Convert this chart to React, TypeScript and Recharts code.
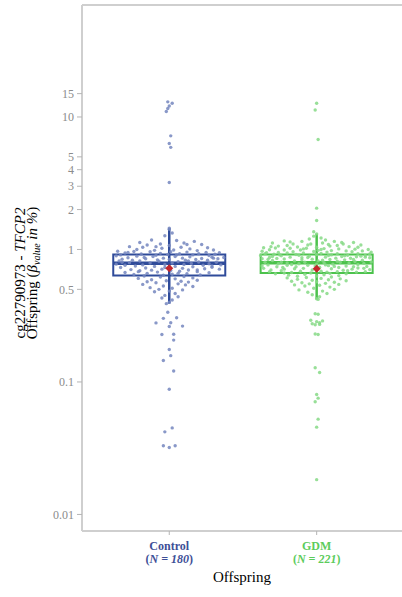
import React from 'react';
import { ComposedChart, Scatter, XAxis, YAxis, ReferenceArea, ReferenceLine } from 'recharts';

const groups = ['Control', 'GDM'];
const groupN = [180, 221];
const groupX = [1, 2];
const boxColors = ['#2f4b9a', '#4cc24c'];
const dotColors = ['#7486be', '#86d986'];
const labelColors = ['#3d4f97', '#5ccc5c'];

// [low whisker, q1, median, q3, high whisker, mean]
const controlStats = [0.39, 0.636, 0.788, 0.917, 1.45, 0.722];
const gdmStats = [0.42, 0.663, 0.794, 0.917, 1.314, 0.715];

const yTicks = [0.01, 0.1, 0.5, 1, 2, 3, 4, 5, 10, 15];

// [jitter, value %]
const controlPoints = [
  [-0.01, 13.0], [0.02, 12.7], [0.0, 12.1], [-0.01, 11.6], [-0.02, 11.0], [0.01, 7.2], [0.0, 6.3], [0.01, 5.9], [0.0, 3.2],
  [0.0, 1.45], [0.0, 1.42], [0.02, 1.33], [-0.03, 1.27],
  [-0.12, 1.18], [0.05, 1.17], [0.17, 1.15], [-0.2, 1.13], [0.1, 1.12], [-0.06, 1.1], [0.22, 1.09], [-0.15, 1.08], [0.0, 1.07],
  [-0.27, 1.05], [-0.18, 1.04], [0.08, 1.04], [0.26, 1.03], [-0.05, 1.02], [0.14, 1.01], [-0.22, 1.0], [0.3, 0.99], [0.03, 0.99], [-0.1, 0.985], [0.19, 0.98],
  [-0.35, 0.97], [-0.24, 0.965], [-0.13, 0.96], [0.01, 0.96], [0.12, 0.955], [0.25, 0.95], [0.34, 0.945], [-0.3, 0.94], [-0.06, 0.935],
  [0.07, 0.93], [0.2, 0.93], [-0.19, 0.925], [0.31, 0.92], [-0.01, 0.915], [-0.33, 0.91], [0.16, 0.91], [-0.09, 0.905], [0.27, 0.9],
  [-0.36, 0.895], [-0.22, 0.89], [-0.11, 0.885], [0.04, 0.885], [0.14, 0.88], [0.29, 0.875], [0.37, 0.87], [-0.28, 0.865], [-0.04, 0.86], [0.09, 0.86],
  [0.22, 0.855], [-0.16, 0.85], [0.33, 0.85], [-0.32, 0.845], [0.0, 0.84], [0.18, 0.84], [-0.08, 0.835], [0.26, 0.83], [-0.25, 0.83], [0.11, 0.828],
  [-0.34, 0.82], [-0.2, 0.818], [-0.07, 0.815], [0.06, 0.81], [0.2, 0.805], [0.32, 0.8], [-0.27, 0.795], [-0.13, 0.79], [0.02, 0.79],
  [0.15, 0.785], [0.27, 0.78], [-0.36, 0.775], [-0.03, 0.77], [0.1, 0.77], [-0.18, 0.765], [0.35, 0.765], [0.23, 0.76], [-0.3, 0.76],
  [-0.23, 0.75], [-0.1, 0.745], [0.04, 0.745], [0.16, 0.74], [0.29, 0.735], [-0.33, 0.73], [-0.16, 0.725], [0.09, 0.72],
  [0.24, 0.715], [-0.05, 0.71], [0.34, 0.71], [-0.26, 0.705], [0.13, 0.7], [-0.12, 0.698], [0.01, 0.695],
  [-0.2, 0.69], [0.07, 0.685], [0.19, 0.68], [-0.08, 0.675], [-0.3, 0.67], [0.27, 0.668], [-0.15, 0.66], [0.12, 0.655], [0.02, 0.65], [-0.24, 0.648], [0.21, 0.642], [-0.04, 0.638],
  [-0.17, 0.63], [0.1, 0.625], [-0.06, 0.62], [0.16, 0.61], [-0.21, 0.605], [0.04, 0.6], [-0.12, 0.59], [0.19, 0.585], [-0.02, 0.58], [0.08, 0.575], [-0.15, 0.57], [0.13, 0.567],
  [-0.09, 0.56], [0.06, 0.55], [-0.18, 0.545], [0.11, 0.54], [-0.04, 0.53], [0.16, 0.525], [-0.13, 0.515], [0.02, 0.51], [-0.07, 0.5], [0.09, 0.495], [0.0, 0.485], [-0.1, 0.48],
  [0.04, 0.465], [-0.03, 0.45], [0.06, 0.44], [-0.05, 0.43], [0.02, 0.415], [0.0, 0.4], [-0.02, 0.39],
  [-0.28, 0.95], [0.05, 0.91], [0.3, 0.86], [-0.17, 0.87], [0.13, 0.82], [-0.32, 0.8], [0.29, 0.75], [-0.03, 0.73], [0.19, 0.7], [-0.21, 0.68], [0.06, 0.66], [-0.09, 1.05], [0.12, 1.09],
  [-0.01, 0.336], [-0.04, 0.302], [0.05, 0.305], [-0.09, 0.279], [0.01, 0.28], [0.0, 0.262], [0.09, 0.264], [-0.05, 0.228], [0.03, 0.229], [0.03, 0.207],
  [0.0, 0.176], [0.01, 0.158], [-0.04, 0.145], [0.03, 0.121], [0.0, 0.088], [0.02, 0.045], [-0.03, 0.042], [-0.04, 0.033], [0.0, 0.032], [0.04, 0.033],
];

const gdmPoints = [
  [0.0, 12.7], [-0.01, 11.3], [0.01, 6.76], [0.0, 2.05], [0.0, 1.655], [-0.02, 1.36],
  [0.0, 1.31], [-0.02, 1.26], [0.03, 1.22], [-0.05, 1.2], [0.06, 1.18],
  [-0.22, 1.16], [-0.1, 1.15], [0.12, 1.15], [0.25, 1.13], [-0.3, 1.12], [0.04, 1.12], [-0.16, 1.1], [0.18, 1.1], [0.3, 1.08], [-0.06, 1.08],
  [-0.26, 1.06], [0.09, 1.06], [0.22, 1.05], [-0.13, 1.045], [0.0, 1.04],
  [-0.36, 1.03], [-0.28, 1.025], [-0.18, 1.02], [-0.07, 1.02], [0.05, 1.015], [0.15, 1.01], [0.26, 1.005], [0.35, 1.0], [-0.32, 0.995], [-0.22, 0.99], [-0.11, 0.99],
  [0.01, 0.985], [0.1, 0.98], [0.2, 0.975], [0.31, 0.975], [-0.37, 0.97], [-0.02, 0.965], [0.24, 0.96], [-0.16, 0.96], [0.37, 0.955], [0.07, 0.955], [-0.26, 0.95],
  [-0.34, 0.945], [-0.2, 0.94], [-0.09, 0.94], [0.03, 0.935], [0.14, 0.93], [0.28, 0.93], [0.36, 0.925], [-0.29, 0.92], [-0.14, 0.915], [0.0, 0.915], [0.1, 0.91],
  [0.21, 0.905], [0.33, 0.9], [-0.38, 0.9], [-0.24, 0.895], [-0.05, 0.89], [0.17, 0.885], [0.27, 0.88], [-0.18, 0.875], [0.06, 0.875], [-0.32, 0.87], [0.36, 0.865],
  [-0.1, 0.865], [0.13, 0.86], [0.23, 0.858], [-0.27, 0.856],
  [-0.37, 0.85], [-0.22, 0.848], [-0.03, 0.845], [0.09, 0.84], [0.19, 0.835], [0.31, 0.83], [-0.3, 0.825], [-0.15, 0.82], [0.01, 0.82], [0.14, 0.815], [0.26, 0.81],
  [0.37, 0.805], [-0.35, 0.8], [-0.08, 0.8], [0.05, 0.795], [-0.2, 0.79], [0.22, 0.79], [0.32, 0.785], [-0.26, 0.78], [-0.12, 0.78], [0.11, 0.775], [0.0, 0.775],
  [-0.33, 0.765], [-0.2, 0.76], [-0.06, 0.76], [0.08, 0.755], [0.2, 0.75], [0.34, 0.745], [-0.27, 0.74], [-0.14, 0.74], [0.02, 0.735], [0.15, 0.73],
  [0.28, 0.725], [-0.36, 0.72], [-0.09, 0.72], [0.1, 0.715], [0.24, 0.71], [-0.22, 0.71], [0.36, 0.705], [-0.03, 0.7], [-0.31, 0.7], [0.18, 0.697],
  [-0.24, 0.69], [-0.11, 0.685], [0.03, 0.685], [0.14, 0.68], [0.27, 0.675], [-0.17, 0.67], [-0.04, 0.665], [0.09, 0.66], [0.2, 0.655], [-0.28, 0.655],
  [-0.08, 0.65], [0.05, 0.645], [-0.19, 0.64], [0.15, 0.635], [0.0, 0.63], [-0.13, 0.627],
  [0.1, 0.62], [-0.07, 0.615], [-0.2, 0.61], [0.03, 0.605], [0.16, 0.6], [-0.13, 0.595], [0.08, 0.59], [-0.03, 0.585], [0.2, 0.58], [-0.17, 0.575],
  [0.0, 0.57], [0.12, 0.565], [-0.1, 0.56], [0.06, 0.555], [-0.05, 0.55], [0.15, 0.545], [-0.15, 0.54], [0.02, 0.537],
  [-0.08, 0.53], [0.09, 0.52], [-0.02, 0.51], [0.12, 0.5], [-0.12, 0.495], [0.04, 0.485], [-0.06, 0.475], [0.07, 0.465], [-0.03, 0.455], [0.02, 0.44], [0.0, 0.425], [0.01, 0.42],
  [-0.35, 0.93], [-0.25, 0.91], [-0.12, 0.905], [0.08, 0.9], [0.19, 0.895], [0.3, 0.89], [-0.3, 0.885], [0.33, 0.875], [-0.06, 0.87], [0.25, 0.84],
  [-0.33, 0.84], [-0.1, 0.835], [0.04, 0.83], [0.16, 0.8], [-0.24, 0.8], [0.28, 0.77], [-0.17, 0.77], [0.06, 0.765], [-0.37, 0.75], [0.25, 0.74],
  [-0.01, 0.75], [0.12, 0.745], [-0.23, 0.73], [0.32, 0.72], [-0.15, 0.715], [0.21, 0.69], [-0.32, 0.68], [0.33, 0.68], [0.07, 0.675], [-0.22, 0.665],
  [-0.18, 1.14], [0.17, 1.13], [-0.04, 1.1], [0.08, 1.09], [-0.2, 1.07], [0.14, 1.07], [0.28, 1.04], [-0.31, 1.05], [0.03, 1.0], [-0.09, 1.01],
  [-0.01, 0.327], [0.01, 0.324], [-0.04, 0.292], [0.04, 0.289], [0.0, 0.285], [0.02, 0.28], [-0.03, 0.275], [0.02, 0.272], [-0.01, 0.27],
  [-0.01, 0.23], [0.01, 0.228], [-0.01, 0.128], [0.02, 0.118], [0.0, 0.0805], [0.01, 0.0755], [-0.01, 0.0708], [0.01, 0.0524], [0.0, 0.0456], [0.0, 0.0183],
];

const pointSets = [controlPoints, gdmPoints];
const statSets = [controlStats, gdmStats];

const BOX_HALF = 0.38;
const Y_DOMAIN = [0.0075, 70];
const SERIF = '"Liberation Serif", "DejaVu Serif", serif';

function GroupTick({ x, y, payload }: any) {
  const i = groupX.indexOf(payload.value);
  if (i < 0) return null;
  const c = labelColors[i];
  return (
    <g fontFamily={SERIF} fontSize={12} fontWeight="bold" fill={c}>
      <text x={x} y={y + 13} textAnchor="middle">{groups[i]}</text>
      <text x={x} y={y + 26} textAnchor="middle">
        (<tspan fontStyle="italic">N = {groupN[i]}</tspan>)
      </text>
    </g>
  );
}

function ValueTick({ x, y, payload }: any) {
  return (
    <text x={x} y={y} dy="0.35em" textAnchor="end" fill="#8c8c8c" fontSize={12} fontFamily={SERIF}>
      {payload.value}
    </text>
  );
}

function YLabel({ viewBox }: any) {
  const cy = viewBox ? viewBox.y + viewBox.height / 2 + 5 : 273;
  return (
    <g fontFamily={SERIF} fontSize={15} fill="#000">
      <text transform={`translate(25, ${cy}) rotate(-90)`} textAnchor="middle">
        cg22790973 - <tspan fontStyle="italic">TFCP2</tspan>
      </text>
      <text transform={`translate(37, ${cy}) rotate(-90)`} textAnchor="middle">
        Offspring (<tspan fontStyle="italic">β</tspan>
        <tspan fontStyle="italic" fontSize={10} dy={3}>value</tspan>
        <tspan fontStyle="italic" dy={-3}> in %</tspan>)
      </text>
    </g>
  );
}

function XLabel({ viewBox }: any) {
  const cx = viewBox ? viewBox.x + viewBox.width / 2 : 242;
  const top = viewBox ? viewBox.y : 531;
  return (
    <text x={cx} y={top + 51} textAnchor="middle" fontFamily={SERIF} fontSize={15} fill="#000">
      Offspring
    </text>
  );
}

const Dot = (color: string) => (p: any) => (
  <circle cx={p.cx} cy={p.cy} r={1.7} fill={color} fillOpacity={0.85} />
);

const MeanMark = (p: any) => (
  <polygon
    points={`${p.cx},${p.cy - 4} ${p.cx + 4},${p.cy} ${p.cx},${p.cy + 4} ${p.cx - 4},${p.cy}`}
    fill="#c4262b"
  />
);

export default function App() {
  const meanData = groupX.map((x, i) => ({ x, y: statSets[i][5] }));

  return (
    <div style={{ position: 'absolute', left: 0, top: 0, background: '#fff' }}>
      <ComposedChart width={402} height={597} margin={{ top: 5, right: 0, bottom: 0, left: 0 }}>
        <XAxis
          type="number"
          dataKey="x"
          domain={[0.408, 2.579]}
          ticks={groupX}
          interval={0}
          allowDataOverflow
          height={66}
          stroke="#cfcfcf"
          strokeWidth={2}
          tickLine={{ stroke: '#b5b5b5', strokeWidth: 1 }}
          tickSize={4}
          tick={<GroupTick />}
          label={{ content: (p: any) => <XLabel {...p} /> }}
        />
        <YAxis
          type="number"
          dataKey="y"
          scale="log"
          domain={Y_DOMAIN}
          ticks={yTicks}
          interval={0}
          allowDataOverflow
          width={82}
          stroke="#cfcfcf"
          strokeWidth={2}
          tickLine={{ stroke: '#b5b5b5', strokeWidth: 1 }}
          tickSize={5}
          tickMargin={3}
          tick={<ValueTick />}
          label={{ content: (p: any) => <YLabel {...p} /> }}
        />
        <ReferenceLine y={Y_DOMAIN[1]} stroke="#cfcfcf" strokeWidth={2} ifOverflow="visible" />
        {pointSets.map((pts, i) => (
          <Scatter
            key={groups[i]}
            data={pts.map(([j, v]) => ({ x: groupX[i] + j, y: v }))}
            shape={Dot(dotColors[i])}
            isAnimationActive={false}
          />
        ))}
        {statSets.map((s, i) => (
          <ReferenceLine
            key={'w' + i}
            segment={[{ x: groupX[i], y: s[0] }, { x: groupX[i], y: s[4] }]}
            stroke={boxColors[i]}
            strokeWidth={2.5}
          />
        ))}
        {statSets.map((s, i) => (
          <ReferenceArea
            key={'b' + i}
            x1={groupX[i] - BOX_HALF}
            x2={groupX[i] + BOX_HALF}
            y1={s[1]}
            y2={s[3]}
            fill="none"
            fillOpacity={0}
            stroke={boxColors[i]}
            strokeWidth={2}
          />
        ))}
        {statSets.map((s, i) => (
          <ReferenceLine
            key={'m' + i}
            segment={[{ x: groupX[i] - BOX_HALF, y: s[2] }, { x: groupX[i] + BOX_HALF, y: s[2] }]}
            stroke={boxColors[i]}
            strokeWidth={3.5}
          />
        ))}
        <Scatter data={meanData} shape={MeanMark} isAnimationActive={false} />
      </ComposedChart>
    </div>
  );
}
